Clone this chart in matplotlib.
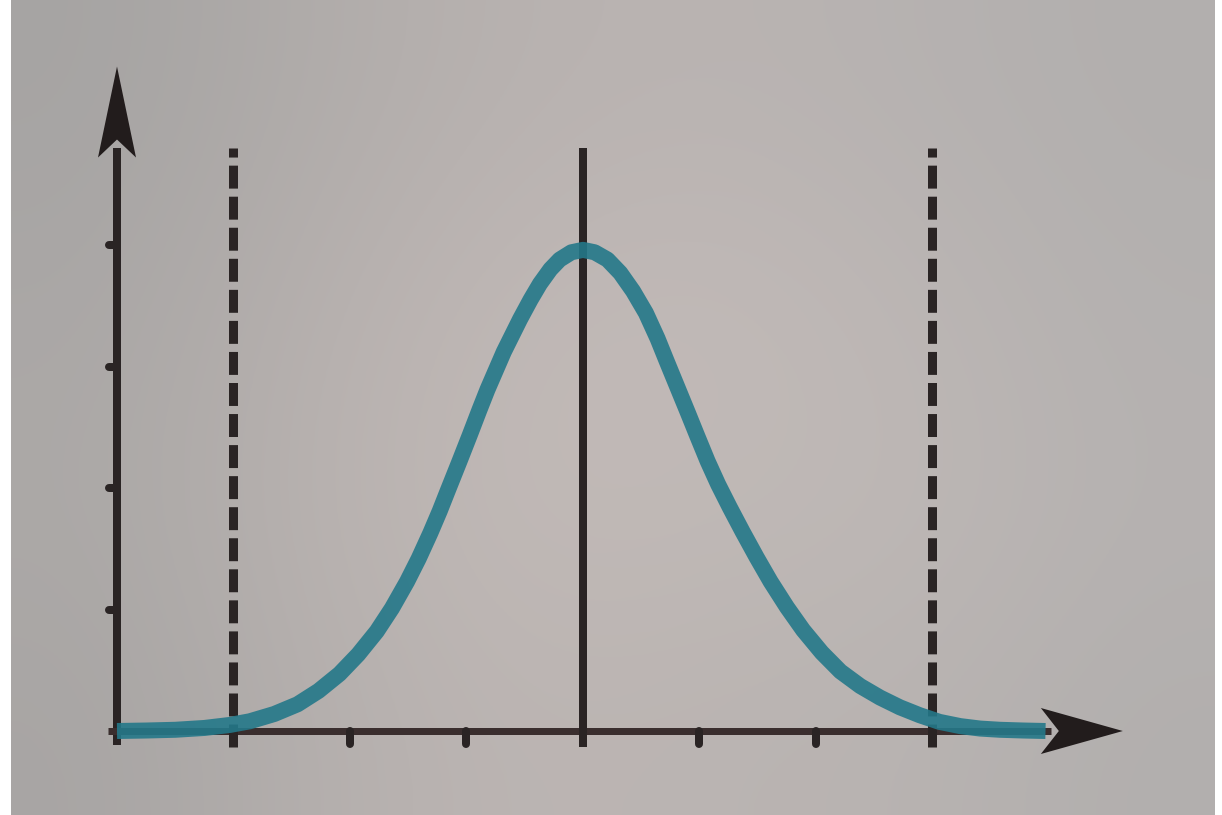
import numpy as np
import matplotlib.pyplot as plt
from matplotlib.patches import Polygon

# bell curve (x in std units, y in tick units)
curve_x = [-4.00, -3.75, -3.50, -3.25, -3.03, -2.86, -2.65, -2.45, -2.27, -2.09,
           -1.93, -1.77, -1.64, -1.51, -1.41, -1.31, -1.23, -1.16, -1.06, -0.97,
           -0.89, -0.82, -0.68, -0.54, -0.45, -0.37, -0.28, -0.20, -0.10, 0.00,
           0.10, 0.21, 0.32, 0.43, 0.54, 0.64, 0.72, 0.81, 0.90, 0.98,
           1.07, 1.16, 1.26, 1.37, 1.49, 1.61, 1.75, 1.89, 2.05, 2.21,
           2.38, 2.55, 2.72, 2.89, 3.06, 3.24, 3.41, 3.58, 3.78, 3.97]
curve_y = [0.00, 0.004, 0.01, 0.025, 0.05, 0.08, 0.14, 0.22, 0.33, 0.47,
           0.63, 0.82, 1.01, 1.23, 1.42, 1.63, 1.81, 1.98, 2.22, 2.44,
           2.64, 2.81, 3.12, 3.39, 3.55, 3.68, 3.80, 3.88, 3.94, 3.96,
           3.94, 3.88, 3.77, 3.62, 3.44, 3.23, 3.04, 2.83, 2.62, 2.43,
           2.22, 2.03, 1.84, 1.64, 1.43, 1.23, 1.02, 0.83, 0.645, 0.49,
           0.37, 0.275, 0.195, 0.13, 0.075, 0.04, 0.02, 0.01, 0.004, 0.00]

x_ticks = [-2, -1, 1, 2]
y_ticks = [1, 2, 3, 4]
mean_x = 0
band_x = [-3, 3]          # dashed limits
origin_x = -4
line_top = 4.80           # top of mean / dashed lines
y_axis_top = 4.72         # where the y arrow head starts
x_axis_end = 3.93         # where the x arrow head starts

# pixel scale of the photo (px per unit)
PX_X = 116.5
PX_Y = 121.5

INK = '#2a2424'
TEAL = '#247889'

fig = plt.figure(figsize=(12.22, 8.15), dpi=100, facecolor='white')
ax = fig.add_axes([11 / 1222, 0, 1204 / 1222, 1])
xlim = ((11 - 583) / PX_X, (1215 - 583) / PX_X)
ylim = ((731 - 815) / PX_Y, 731 / PX_Y)

# plaster-like backdrop: coarse tone map, smoothed
tones = np.array([
    [[166, 164, 163], [176, 172, 170], [184, 178, 176], [186, 180, 178], [182, 178, 177], [178, 175, 174]],
    [[170, 167, 166], [182, 176, 174], [192, 184, 182], [194, 186, 184], [188, 182, 180], [180, 177, 176]],
    [[172, 169, 167], [184, 178, 176], [194, 186, 183], [192, 185, 182], [190, 184, 182], [182, 178, 177]],
    [[168, 165, 164], [180, 175, 173], [188, 181, 179], [186, 180, 178], [184, 179, 177], [178, 175, 174]],
]) / 255.0
ax.imshow(tones, extent=(xlim[0], xlim[1], ylim[0], ylim[1]), aspect='auto',
          interpolation='bicubic', zorder=0)

lw_axis = 8 * 72 / 100
lw_dash = 9 * 72 / 100

# axes
ax.plot([origin_x, origin_x], [-14 / PX_Y, y_axis_top + 10 / PX_Y], color=INK, lw=lw_axis,
        solid_capstyle='butt', zorder=3)
ax.plot([origin_x - 9 / PX_X, x_axis_end + 10 / PX_X], [0, 0], color='#3a2e2e', lw=7 * 72 / 100,
        solid_capstyle='butt', zorder=3)

# tick stubs
for xt in x_ticks:
    ax.plot([xt, xt], [0, -13 / PX_Y], color=INK, lw=lw_axis, solid_capstyle='round', zorder=3)
for yt in y_ticks:
    ax.plot([origin_x - 8 / PX_X, origin_x], [yt, yt], color=INK, lw=lw_axis,
            solid_capstyle='round', zorder=3)

# mean line and dashed limits
ax.plot([mean_x, mean_x], [-16 / PX_Y, line_top], color=INK, lw=lw_axis,
        solid_capstyle='butt', zorder=3)
for bx in band_x:
    ax.plot([bx, bx], [-16 / PX_Y, line_top], color=INK, lw=lw_dash, dashes=(2.55, 0.9),
            dash_capstyle='butt', zorder=3)

# arrow heads (notched)
def head(base_x, base_y, horizontal, length, half, notch):
    if horizontal:
        pts = [(base_x + length / PX_X, base_y), (base_x, base_y - half / PX_Y),
               (base_x + notch / PX_X, base_y), (base_x, base_y + half / PX_Y)]
    else:
        pts = [(base_x, base_y + length / PX_Y), (base_x + half / PX_X, base_y),
               (base_x, base_y + notch / PX_Y), (base_x - half / PX_X, base_y)]
    ax.add_patch(Polygon(pts, closed=True, facecolor='#221c1c', edgecolor='none', zorder=4))

head(origin_x, y_axis_top, False, 91, 19, 18)
head(x_axis_end, 0, True, 82, 23, 18)

# the bell curve
ax.plot(curve_x, curve_y, color=TEAL, lw=16 * 72 / 100, alpha=0.9,
        solid_capstyle='butt', solid_joinstyle='round', zorder=5)

ax.set_xlim(*xlim)
ax.set_ylim(*ylim)
ax.axis('off')

fig.savefig('out.png', dpi=100, facecolor='white')
